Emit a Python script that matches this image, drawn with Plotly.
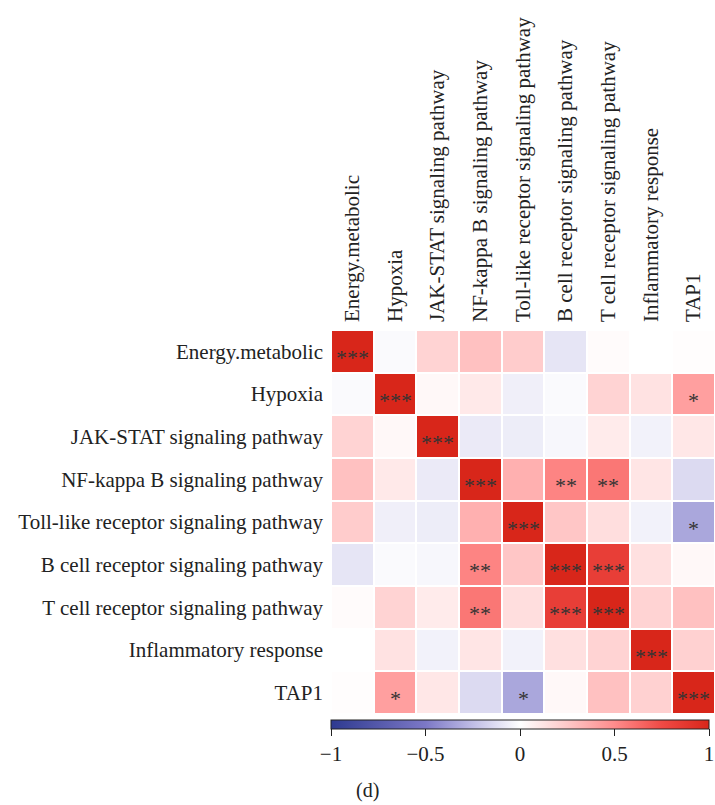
import plotly.graph_objects as go

# Gene sets / genes compared in the correlation matrix
labels = [
    "Energy.metabolic",
    "Hypoxia",
    "JAK-STAT signaling pathway",
    "NF-kappa B signaling pathway",
    "Toll-like receptor signaling pathway",
    "B cell receptor signaling pathway",
    "T cell receptor signaling pathway",
    "Inflammatory response",
    "TAP1",
]

# Pearson correlation coefficients (rows follow `labels`)
corr = [
    [1.00, -0.02, 0.20, 0.28, 0.23, -0.10, 0.02, 0.00, 0.01],
    [-0.02, 1.00, 0.03, 0.10, -0.06, -0.02, 0.20, 0.13, 0.42],
    [0.20, 0.03, 1.00, -0.08, -0.07, -0.03, 0.09, -0.05, 0.11],
    [0.28, 0.10, -0.08, 1.00, 0.35, 0.53, 0.58, 0.12, -0.14],
    [0.23, -0.06, -0.07, 0.35, 1.00, 0.26, 0.15, -0.05, -0.33],
    [-0.10, -0.02, -0.03, 0.53, 0.26, 1.00, 0.83, 0.14, 0.03],
    [0.02, 0.20, 0.09, 0.58, 0.15, 0.83, 1.00, 0.20, 0.28],
    [0.00, 0.13, -0.05, 0.12, -0.05, 0.14, 0.20, 1.00, 0.21],
    [0.01, 0.42, 0.11, -0.14, -0.33, 0.03, 0.28, 0.21, 1.00],
]

# Significance marks
stars = [
    ["***", "", "", "", "", "", "", "", ""],
    ["", "***", "", "", "", "", "", "", "*"],
    ["", "", "***", "", "", "", "", "", ""],
    ["", "", "", "***", "", "**", "**", "", ""],
    ["", "", "", "", "***", "", "", "", "*"],
    ["", "", "", "**", "", "***", "***", "", ""],
    ["", "", "", "**", "", "***", "***", "", ""],
    ["", "", "", "", "", "", "", "***", ""],
    ["", "*", "", "", "*", "", "", "", "***"],
]

cbar_ticks = [-1, -0.5, 0, 0.5, 1]
cbar_text = ["\u22121", "\u22120.5", "0", "0.5", "1"]

colorscale = [
    [0.0, "#2E3A90"],
    [0.25, "#7C78C6"],
    [0.375, "#C0BDE6"],
    [0.5, "#FFFFFF"],
    [0.625, "#FFC8C8"],
    [0.75, "#FF8C8C"],
    [0.875, "#F04A45"],
    [1.0, "#D8261A"],
]

FONT = "Liberation Serif"

fig = go.Figure(
    go.Heatmap(
        z=corr,
        x=labels,
        y=labels,
        zmin=-1,
        zmax=1,
        colorscale=colorscale,
        xgap=2,
        ygap=2,
        hoverinfo="skip",
        colorbar=dict(
            orientation="h",
            x=0,
            xanchor="left",
            y=-0.016,
            yanchor="top",
            len=0.984,
            lenmode="fraction",
            thickness=9,
            xpad=0,
            ypad=0,
            outlinewidth=1,
            outlinecolor="#222",
            ticks="outside",
            ticklen=7,
            tickcolor="#222",
            tickvals=cbar_ticks,
            ticktext=cbar_text,
            ticklabeloverflow="allow",
            tickfont=dict(family=FONT, size=21, color="#222"),
        ),
    )
)

for i, row in enumerate(stars):
    for j, s in enumerate(row):
        if s:
            fig.add_annotation(
                x=labels[j], y=labels[i], text=s, showarrow=False,
                yshift=-6, font=dict(family=FONT, size=22, color="#333"),
            )

fig.add_annotation(
    x=0.094, y=-0.234, xref="paper", yref="paper", text="(d)",
    xanchor="center", yanchor="bottom",
    showarrow=False, font=dict(family=FONT, size=20, color="#222"),
)

fig.update_xaxes(
    side="top", tickangle=-90, showgrid=False, zeroline=False, ticks="",
    tickfont=dict(family=FONT, size=21, color="#222"),
)
fig.update_yaxes(
    autorange="reversed", showgrid=False, zeroline=False, ticks="",
    tickfont=dict(family=FONT, size=21, color="#222"),
)

fig.update_layout(
    width=715,
    height=805,
    margin=dict(l=331, r=0, t=330, b=91, pad=7),
    plot_bgcolor="white",
    paper_bgcolor="white",
    font=dict(family=FONT),
)

fig.write_html("out.html")
